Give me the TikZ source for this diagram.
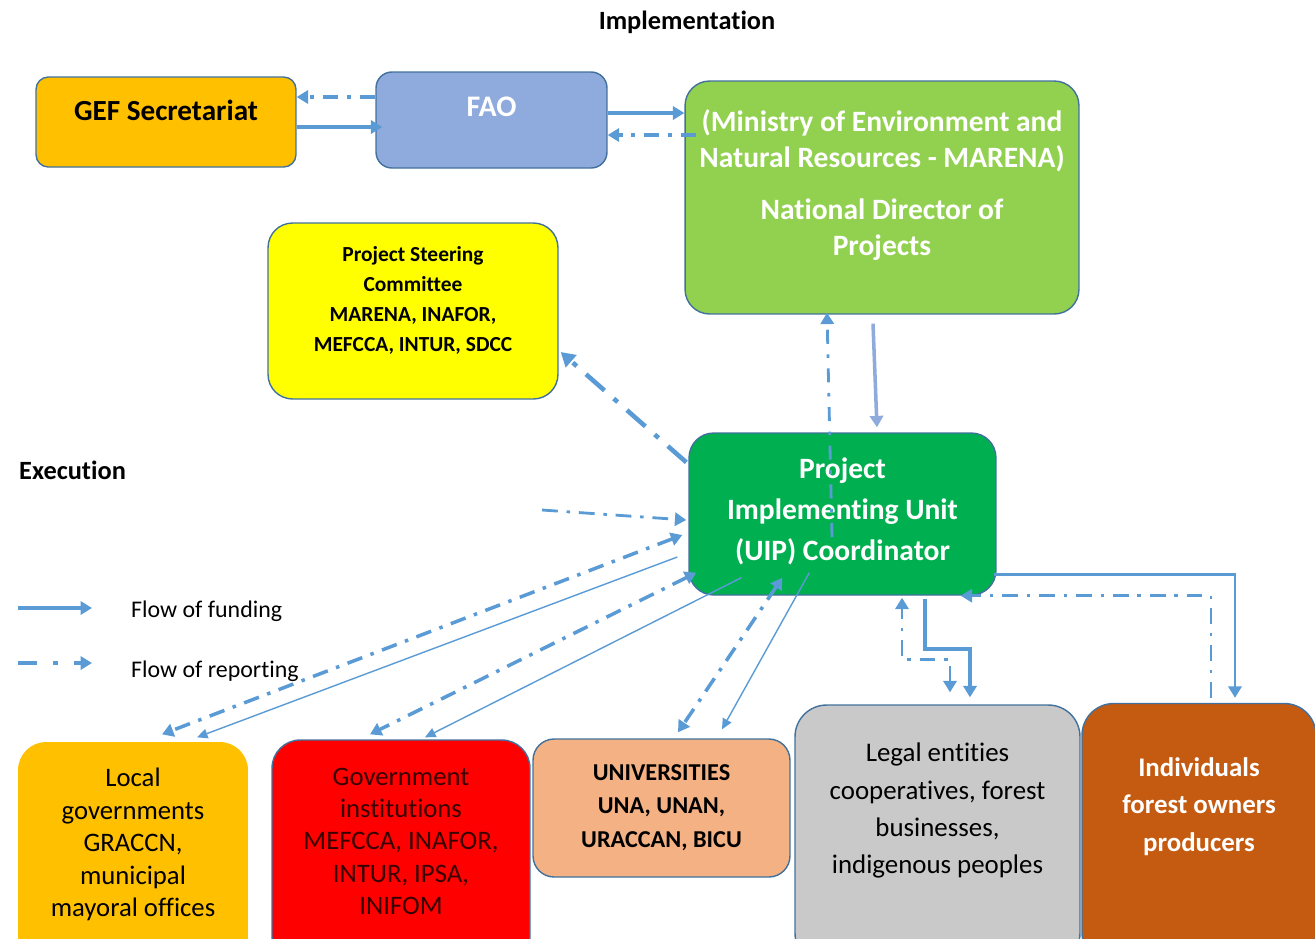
\documentclass[tikz,border=0pt]{standalone}
\definecolor{flowblue}{HTML}{5B9BD5}
\definecolor{rimblue}{HTML}{41719C}
\definecolor{fadeblue}{HTML}{8FAADC}
\definecolor{gefgold}{HTML}{FFC000}
\definecolor{faoblue}{HTML}{8FAADC}
\definecolor{marenagreen}{HTML}{92D050}
\definecolor{steeryellow}{HTML}{FFFF00}
\definecolor{uipgreen}{HTML}{00B050}
\definecolor{govred}{HTML}{FF0000}
\definecolor{govtext}{HTML}{380000}
\definecolor{univpeach}{HTML}{F4B183}
\definecolor{legalgrey}{HTML}{C9C9C9}
\definecolor{indivrust}{HTML}{C55A11}
\usepackage{fontspec}
\setmainfont{Carlito}[Ligatures=CommonOff]
\usetikzlibrary{arrows.meta,calc}
\newcommand\setfs[2]{\fontsize{#1}{#2}\selectfont}

\begin{document}
\begin{tikzpicture}[x=0.02cm,y=-0.02cm,
    >={Triangle[length=6.5pt,width=7.5pt]},
    panel/.style={draw=rimblue,line width=0.8pt,rounded corners=#1,inner sep=0pt},
    intext/.style={anchor=north,inner sep=0pt,align=center},
    fund/.style={draw=flowblue,line width=2pt,->},
    report/.style={draw=flowblue,line width=2pt,->,dash pattern=on 9pt off 5pt on 2pt off 5pt},
    thinflow/.style={draw=flowblue,line width=0.8pt,->,>={Triangle[length=6pt,width=5.5pt]}},
    legtext/.style={anchor=west,font=\setfs{13.6}{16}}]
  \useasboundingbox (0,0) rectangle (1315,938);
  \clip (0,0) rectangle (1315,938);

  \node[font=\bfseries\setfs{15}{17}] (impl) at (687,22) {Implementation};
  \node[anchor=west,font=\bfseries\setfs{15}{17}] (exec) at (13,470) {Execution};

  % implementation level
  \node[panel=7pt,fill=gefgold,minimum width=5.2cm,minimum height=1.8cm,
    label={[intext,yshift=-0.47cm,font=\bfseries\setfs{16.6}{19}]north:GEF Secretariat}] (gef) at (166,122) {};
  \node[panel=9pt,fill=faoblue,minimum width=4.62cm,minimum height=1.92cm,
    label={[intext,yshift=-0.5cm,text=white,font=\bfseries\setfs{17}{19}]north:FAO}] (fao) at (491.5,120) {};
  \node[panel=14pt,fill=marenagreen,minimum width=7.88cm,minimum height=4.66cm,
    label={[intext,yshift=-0.57cm,text=white,font=\bfseries\setfs{16.8}{20.6}]north:(Ministry of Environment and\\Natural Resources - MARENA)\\[9pt]National Director of\\Projects}] (marena) at (882,197.5) {};
  \node[panel=14pt,fill=steeryellow,minimum width=5.8cm,minimum height=3.52cm,
    label={[intext,yshift=-0.48cm,font=\bfseries\setfs{12.2}{17}]north:Project Steering\\Committee\\MARENA, INAFOR,\\MEFCCA, INTUR, SDCC}] (steer) at (413,311) {};

  % execution level
  \node[panel=14pt,fill=uipgreen,minimum width=6.14cm,minimum height=3.24cm,
    label={[intext,yshift=-0.5cm,text=white,font=\bfseries\setfs{16.8}{23.5}]north:Project\\Implementing Unit\\(UIP) Coordinator}] (uip) at (842.5,514) {};
  \node[panel=16pt,fill=gefgold,draw=none,minimum width=4.6cm,minimum height=4.46cm,
    label={[intext,yshift=-0.53cm,font=\setfs{15.2}{18.5}]north:Local\\governments\\GRACCN,\\municipal\\mayoral offices}] (local) at (133,853.5) {};
  \node[panel=16pt,fill=govred,minimum width=5.16cm,minimum height=4.5cm,
    label={[intext,yshift=-0.56cm,text=govtext,font=\setfs{15.2}{18.4}]north:Government\\institutions\\MEFCCA, INAFOR,\\INTUR, IPSA,\\INIFOM}] (gov) at (401,852.5) {};
  \node[panel=12pt,fill=univpeach,minimum width=5.14cm,minimum height=2.76cm,
    label={[intext,yshift=-0.52cm,font=\bfseries\setfs{13.8}{19}]north:UNIVERSITIES\\UNA, UNAN,\\URACCAN, BICU}] (univ) at (661.5,808) {};
  \node[panel=18pt,fill=legalgrey,minimum width=5.7cm,minimum height=5.2cm,
    label={[intext,yshift=-0.77cm,font=\setfs{15.3}{21.2}]north:Legal entities\\cooperatives, forest\\businesses,\\indigenous peoples}] (legal) at (937.5,835) {};
  \node[panel=18pt,fill=indivrust,minimum width=4.68cm,minimum height=5.22cm,
    label={[intext,yshift=-1.09cm,text=white,font=\bfseries\setfs{15.3}{21.3}]north:Individuals\\forest owners\\producers}] (indiv) at (1199,834) {};

  % flows between implementing bodies
  \draw[report] ($(fao.west)+(0,-23)$) -- ($(gef.east)+(0,-25)$);
  \draw[fund] ($(gef.east)+(0,5)$) -- ($(fao.west)+(7,7)$);
  \draw[fund] ($(fao.east)+(0,-7)$) -- ($(marena.west)+(0,-84.5)$);
  \draw[report] ($(marena.west)+(12,-62.5)$) -- ($(fao.east)+(0,15)$);
  \draw[fund,draw=fadeblue] ($(marena.south)+(-9,9)$) -- ($(uip.north)+(34.5,-5)$);
  \draw[report,line width=1.6pt,dash pattern=on 8pt off 6pt on 2pt off 6pt] ($(uip.center)+(-10.5,23)$) -- ($(marena.south)+(-55,-2)$);
  \draw[report,line width=2.6pt,dash pattern=on 14pt off 7pt on 3pt off 7pt,>={Triangle[length=8pt,width=9pt]}] ($(uip.north west)+(-2,30)$) -- ($(steer.east)+(2,41)$);

  % flows to the executing partners
  \coordinate (outside) at (542,510);
  \draw[report,line width=1.6pt] (outside) -- ($(uip.west)+(-2,6)$);
  \draw[report,<->] ($(uip.west)+(-6,21)$) -- ($(local.north)+(29,-7)$);
  \draw[thinflow] ($(uip.west)+(-11,43)$) -- ($(local.north)+(64,-4)$);
  \draw[report,<->] ($(uip.south west)+(8,-23)$) -- ($(gov.north)+(-31,-5)$);
  \draw[thinflow] ($(uip.south west)+(53,-18)$) -- ($(gov.north)+(24,-2)$);
  \draw[report,<->] ($(uip.south west)+(94,-18)$) -- ($(univ.north)+(16.5,-6)$);
  \draw[thinflow] ($(uip.south west)+(121,-23)$) -- ($(univ.north)+(60.5,-9)$);
  \draw[fund,line width=2.2pt] ($(uip.south)+(82.5,3)$) -- ++(0,50) -| ($(legal.north)+(32.5,-7)$);
  \draw[report,line width=1.6pt,<->] ($(legal.north)+(12.5,-12)$) -- ++(0,-33) -| ($(uip.south)+(59.5,2)$);
  \draw[fund,line width=1.6pt] ($(uip.south east)+(-3,-21)$) -| ($(indiv.north)+(36,-5)$);
  \draw[report,line width=1.6pt] ($(indiv.north)+(12,-5)$) |- ($(uip.south east)+(-36,0)$);

  % legend
  \coordinate (fundL) at (18,608);
  \coordinate (fundR) at (92,608);
  \draw[fund,line width=2.4pt] (fundL) -- (fundR);
  \node[legtext] (fundtxt) at (125,611) {Flow of funding};
  \coordinate (repL) at (18,663);
  \coordinate (repR) at (92,663);
  \draw[report,line width=2.4pt,dash pattern=on 11pt off 9pt on 3pt off 9pt] (repL) -- (repR);
  \node[legtext] (reptxt) at (125,671) {Flow of reporting};
\end{tikzpicture}
\end{document}
